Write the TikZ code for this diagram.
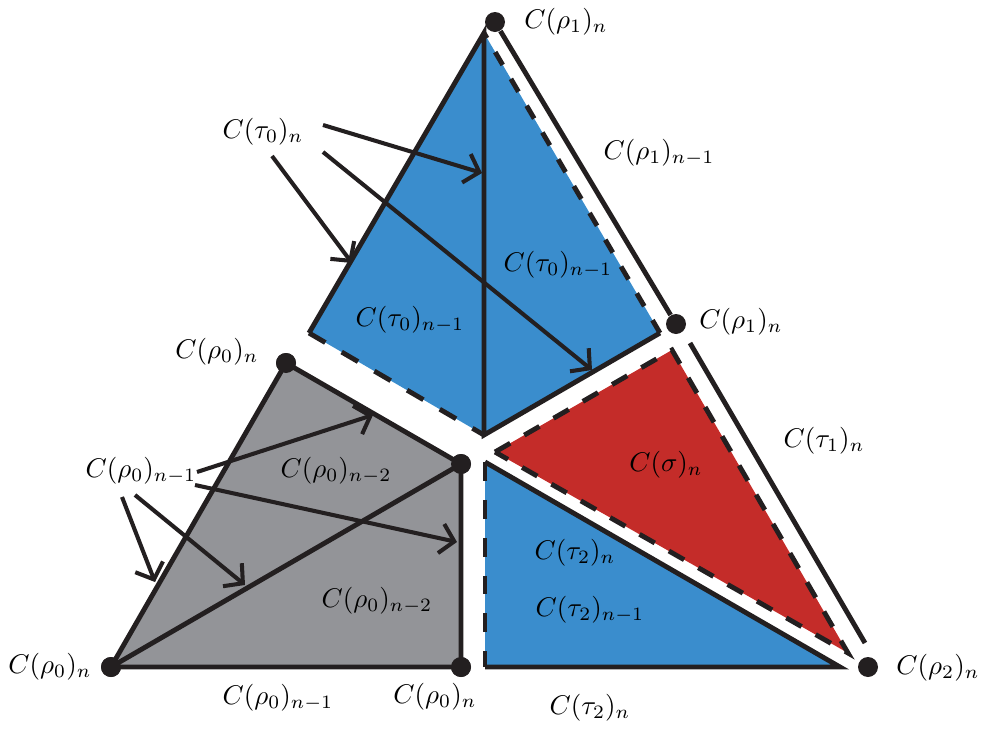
\documentclass[tikz,border=0pt]{standalone}
\usepackage{tikz}
\usetikzlibrary{arrows.meta}
\definecolor{cblue}{RGB}{58,141,205}
\definecolor{cred}{RGB}{196,44,41}
\definecolor{cgray}{RGB}{147,148,152}
\definecolor{cline}{RGB}{35,31,32}

\begin{document}
\begin{tikzpicture}[x=0.37pt,y=-0.37pt,
  dot/.style={circle,fill=cline,inner sep=0pt,minimum size=7.4pt},
  lbl/.style={inner sep=0pt},
  edge/.style={draw=cline,line width=1.8pt},
  dsh/.style={draw=cline,line width=1.8pt,dash pattern=on 7pt off 7pt},
  arr/.style={draw=cline,line width=1.5pt,-{Straight Barb[length=5pt,width=11pt]}}]
\useasboundingbox (0,0) rectangle (983,729);
% top blue cell
\coordinate (ta) at (484,33);
\coordinate (tl) at (309,333);
\coordinate (tb) at (484,435);
\coordinate (tr) at (660,333);
\fill[cblue] (ta) -- (tl) -- (tb) -- (tr) -- cycle;
\draw[edge] (tl) -- (ta) -- (tb) -- (tr);
\draw[dsh] (tl) -- (tb);
\draw[dsh,dash pattern=on 5.5pt off 6pt] (tr) -- (ta);
% red cell
\coordinate (sl) at (495,452);
\coordinate (st) at (672,350);
\coordinate (sb) at (848,653);
\fill[cred] (sl) -- (st) -- (sb) -- cycle;
\draw[dsh,dash pattern=on 6.5pt off 6pt] (sl) -- (st) -- (sb) -- cycle;
% bottom blue cell
\coordinate (bt) at (485,462);
\coordinate (bl) at (485,667);
\coordinate (br) at (840,667);
\fill[cblue] (bt) -- (bl) -- (br) -- cycle;
\draw[dsh] (bt) -- (bl);
\draw[edge] (bl) -- (br) -- (bt);
% gray cell
\node[dot] (g1) at (286,363) {};
\node[dot] (g2) at (461,464) {};
\node[dot] (g3) at (461,667) {};
\node[dot] (g4) at (111,667) {};
\fill[cgray] (g1.center) -- (g2.center) -- (g3.center) -- (g4.center) -- cycle;
\draw[edge] (g1.center) -- (g2.center) -- (g3.center) -- (g4.center) -- cycle;
\draw[edge] (g4.center) -- (g2.center);
\foreach \d in {g1,g2,g3,g4} \node[dot] at (\d) {};
% outer edge
\node[dot] (p1) at (495,22) {};
\node[dot] (p2) at (676,324) {};
\node[dot] (p3) at (868,667) {};
\coordinate (q1) at (690,343);
\coordinate (q2) at (865,643);
\draw[edge] (p1) -- (p2);
\draw[edge] (q1) -- (q2);
% labels
\node[lbl] (l1) at (566,22) {$C(\rho_1)_n$};
\node[lbl] (l2) at (659,153) {$C(\rho_1)_{n-1}$};
\node[lbl] (l3) at (263,132) {$C(\tau_0)_n$};
\node[lbl] (l4) at (558,265) {$C(\tau_0)_{n-1}$};
\node[lbl] (l5) at (410,320) {$C(\tau_0)_{n-1}$};
\node[lbl] (l6) at (741,322) {$C(\rho_1)_n$};
\node[lbl] (l7) at (217,352) {$C(\rho_0)_n$};
\node[lbl] (l8) at (824,441) {$C(\tau_1)_n$};
\node[lbl] (l9) at (666,465) {$C(\sigma)_n$};
\node[lbl] (l10) at (141,471) {$C(\rho_0)_{n-1}$};
\node[lbl] (l11) at (336,471) {$C(\rho_0)_{n-2}$};
\node[lbl] (l12) at (377,601) {$C(\rho_0)_{n-2}$};
\node[lbl] (l13) at (575,553) {$C(\tau_2)_n$};
\node[lbl] (l14) at (590,610) {$C(\tau_2)_{n-1}$};
\node[lbl] (l15) at (50,667) {$C(\rho_0)_n$};
\node[lbl] (l16) at (278,698) {$C(\rho_0)_{n-1}$};
\node[lbl] (l17) at (435,697) {$C(\rho_0)_n$};
\node[lbl] (l18) at (590,708) {$C(\tau_2)_n$};
\node[lbl] (l19) at (938,668) {$C(\rho_2)_n$};
% arrows
\coordinate (a1) at (323,125); \coordinate (e1) at (482,173);
\coordinate (a2) at (323,152); \coordinate (e2) at (592,370);
\coordinate (a3) at (272,156); \coordinate (e3) at (352,263);
\coordinate (a4) at (197,472); \coordinate (e4) at (373,415);
\coordinate (a5) at (195,485); \coordinate (e5) at (457,542);
\coordinate (a6) at (135,495); \coordinate (e6) at (245,585);
\coordinate (a7) at (122,497); \coordinate (e7) at (155,582);
\foreach \i in {1,...,7} \draw[arr] (a\i) -- (e\i);
\end{tikzpicture}
\end{document}
